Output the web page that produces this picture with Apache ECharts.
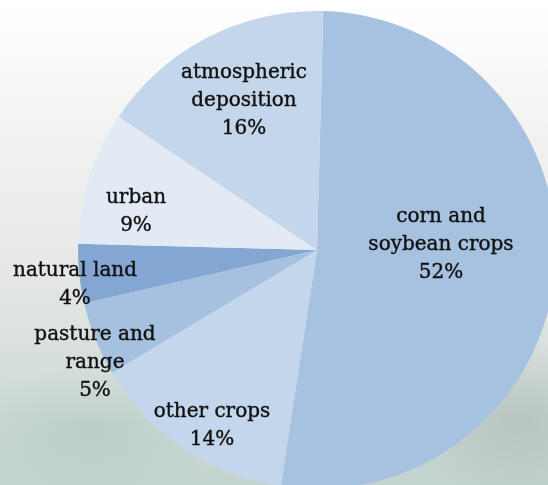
<!DOCTYPE html>
<html>
<head>
<meta charset="utf-8">
<script src="https://cdn.jsdelivr.net/npm/echarts@6/dist/echarts.min.js"></script>
<style>
html,body{margin:0;padding:0;width:548px;height:485px;overflow:hidden;}
#bg{position:absolute;left:0;top:0;width:548px;height:485px;
background:
radial-gradient(ellipse 140px 60px at 90px 430px, rgba(170,195,190,0.45), rgba(170,195,190,0) 100%),
radial-gradient(ellipse 120px 80px at 520px 420px, rgba(150,165,160,0.40), rgba(150,165,160,0) 100%),
linear-gradient(to bottom, #ffffff 0px, #fbfbfb 50px, #f2f2f1 130px, #ebecea 230px, #e1e5e2 300px, #d3ddd9 380px, #c3d3cd 485px);}
#chart{position:absolute;left:0;top:0;width:548px;height:485px;}
</style>
</head>
<body>
<div id="bg"></div>
<div id="chart"></div>
<script>
// Data
const categories = ['corn and\nsoybean crops', 'other crops', 'pasture and\nrange', 'natural land', 'urban', 'atmospheric\ndeposition'];
const values = [52, 14, 5, 4, 9, 16];
const percentLabels = ['52%', '14%', '5%', '4%', '9%', '16%'];

// Styling / layout (kept separate from data)
const sliceColors = ['#a7c1e0', '#c3d6ec', '#a6c0e0', '#84a6d2', '#e1eaf5', '#c3d6eb'];
const labelX = [441, 212, 95, 75, 136, 244];
const labelY = [245, 426, 363, 285, 212, 101];

const chart = echarts.init(document.getElementById('chart'), null, {renderer: 'canvas'});
chart.setOption({
  backgroundColor: 'transparent',
  animation: false,
  series: [{
    type: 'pie',
    center: [317, 250],
    radius: [0, 239],
    startAngle: 88.5,
    clockwise: true,
    avoidLabelOverlap: false,
    itemStyle: {borderWidth: 0},
    label: {
      show: true,
      position: 'inside',
      formatter: function (p) { return categories[p.dataIndex] + '\n' + percentLabels[p.dataIndex]; },
      fontFamily: 'DejaVu Serif',
      fontSize: 20,
      lineHeight: 28,
      color: '#111111',
      textBorderColor: '#111111',
      textBorderWidth: 0.4,
      align: 'center'
    },
    labelLayout: function (p) {
      return {x: labelX[p.dataIndex], y: labelY[p.dataIndex], align: 'center', verticalAlign: 'middle'};
    },
    labelLine: {show: false},
    emphasis: {disabled: true},
    data: values.map(function (v, i) {
      return {name: categories[i], value: v, itemStyle: {color: sliceColors[i]}};
    })
  }]
});
</script>
</body>
</html>
